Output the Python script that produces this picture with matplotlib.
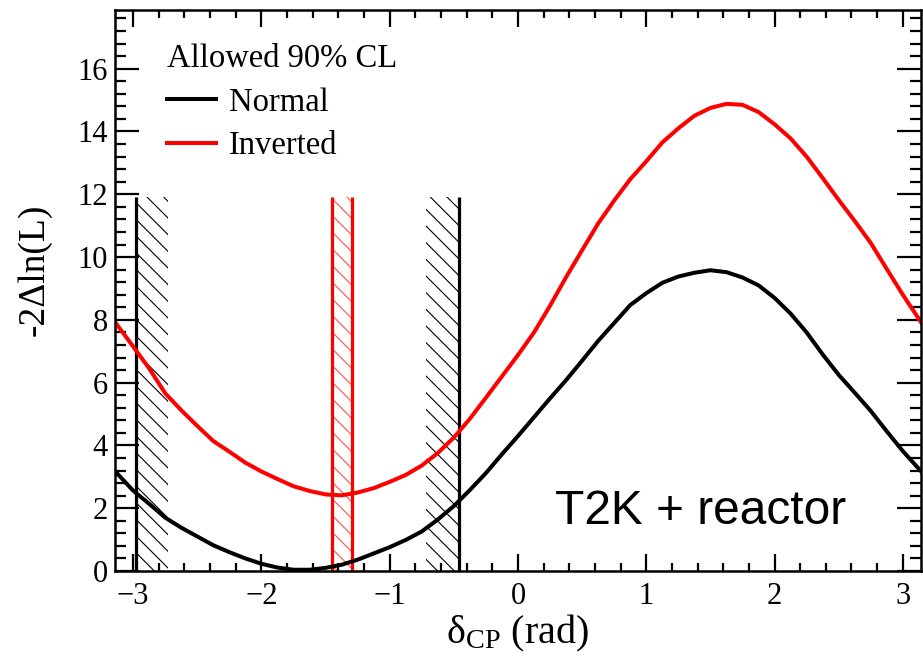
import numpy as np
import matplotlib
matplotlib.use('Agg')
import matplotlib.pyplot as plt

plt.rcParams['font.family'] = ['Liberation Serif', 'DejaVu Serif']
plt.rcParams['mathtext.fontset'] = 'custom'
plt.rcParams['mathtext.rm'] = 'Liberation Serif'
plt.rcParams['mathtext.it'] = 'Liberation Serif:italic'
plt.rcParams['hatch.linewidth'] = 0.8

# delta_CP values (rad) where the curves were read
dcp = [-3.1416, -3.0, -2.875, -2.75, -2.625, -2.5, -2.375, -2.25, -2.125, -2.0,
       -1.875, -1.75, -1.625, -1.5, -1.375, -1.25, -1.125, -1.0, -0.875, -0.75,
       -0.625, -0.5, -0.375, -0.25, -0.125, 0.0, 0.125, 0.25, 0.375, 0.5,
       0.625, 0.75, 0.875, 1.0, 1.125, 1.25, 1.375, 1.5, 1.625, 1.75,
       1.875, 2.0, 2.125, 2.25, 2.375, 2.5, 2.625, 2.75, 2.875, 3.0, 3.1416]
# -2 delta ln L, normal hierarchy
normal = [3.18, 2.56, 2.14, 1.70, 1.38, 1.10, 0.82, 0.60, 0.40, 0.23,
          0.11, 0.04, 0.04, 0.10, 0.20, 0.36, 0.56, 0.76, 0.99, 1.26,
          1.64, 2.07, 2.58, 3.12, 3.72, 4.30, 4.90, 5.50, 6.08, 6.70,
          7.33, 7.90, 8.47, 8.85, 9.18, 9.38, 9.50, 9.58, 9.52, 9.35,
          9.10, 8.70, 8.20, 7.60, 6.90, 6.25, 5.68, 5.10, 4.45, 3.82, 3.18]
# -2 delta ln L, inverted hierarchy
inverted = [7.93, 7.15, 6.45, 5.66, 5.12, 4.62, 4.14, 3.80, 3.45, 3.17,
            2.93, 2.70, 2.55, 2.44, 2.41, 2.50, 2.64, 2.84, 3.06, 3.36,
            3.76, 4.25, 4.85, 5.52, 6.20, 6.88, 7.60, 8.45, 9.36, 10.22,
            11.07, 11.80, 12.48, 13.05, 13.65, 14.10, 14.50, 14.75, 14.88, 14.85,
            14.62, 14.23, 13.78, 13.20, 12.52, 11.82, 11.15, 10.45, 9.62, 8.80, 7.93]

# 90% CL allowed intervals
normal_bounds = [-2.98, -0.46]
inverted_bounds = [-1.45, -1.295]
bound_top = 11.92
hatch_width = 0.255

fig = plt.figure(figsize=(9.23, 6.58), dpi=100)
ax = fig.add_axes([0.1246, 0.1322, 0.8732, 0.8526])

# hatched bands (on the excluded side of each bound)
ax.fill_betweenx([0, bound_top], normal_bounds[0], normal_bounds[0] + hatch_width,
                 facecolor='none', edgecolor='black', hatch='\\\\', linewidth=0)
ax.fill_betweenx([0, bound_top], normal_bounds[1] - hatch_width, normal_bounds[1],
                 facecolor='none', edgecolor='black', hatch='\\\\', linewidth=0)
ax.fill_betweenx([0, bound_top], inverted_bounds[0], inverted_bounds[1],
                 facecolor='none', edgecolor='#ff5050', hatch='\\\\', linewidth=0)

for b in normal_bounds:
    ax.plot([b, b], [0, bound_top], color='black', lw=2.3, solid_capstyle='butt')
for b in inverted_bounds:
    ax.plot([b, b], [0, bound_top], color='red', lw=2.3, solid_capstyle='butt')

ax.plot(dcp, normal, color='black', lw=2.9, label='Normal')
ax.plot(dcp, inverted, color='red', lw=2.9, label='Inverted')

ax.set_xlim(-np.pi, np.pi)
ax.set_ylim(0, 17.87)
ax.set_xticks([-3, -2, -1, 0, 1, 2, 3])
ax.set_xticks(np.arange(-3.0, 3.01, 0.2), minor=True)
ax.set_yticks(np.arange(0, 17, 2))
ax.set_yticks(np.arange(0, 17.9, 0.4), minor=True)

ax.tick_params(which='both', direction='in', top=True, right=True, labelsize=22, width=1.6)
ax.tick_params(axis='x', which='major', length=12, pad=8)
ax.tick_params(axis='x', which='minor', length=6)
ax.tick_params(axis='y', which='major', length=17, pad=5)
ax.tick_params(axis='y', which='minor', length=8)
for s in ax.spines.values():
    s.set_linewidth(1.8)

ax.set_xlabel(r'$\mathrm{\delta}_{\mathrm{CP}}$ (rad)', fontsize=29, labelpad=1)
ax.set_ylabel('-2Δln(L)', fontsize=27)
ax.yaxis.set_label_coords(-0.079, 0.537)

ax.text(0.29, 1.5, 'T2K + reactor', family='Liberation Sans', fontsize=34.5)

leg = ax.legend(title='Allowed 90% CL', loc='upper left', frameon=False, fontsize=23.5,
                title_fontsize=23.5, handlelength=1.5, handletextpad=0.4,
                labelspacing=0.4, alignment='left', bbox_to_anchor=(0.064, 0.94),
                borderaxespad=0, borderpad=0)

fig.savefig('out.png', dpi=100)
